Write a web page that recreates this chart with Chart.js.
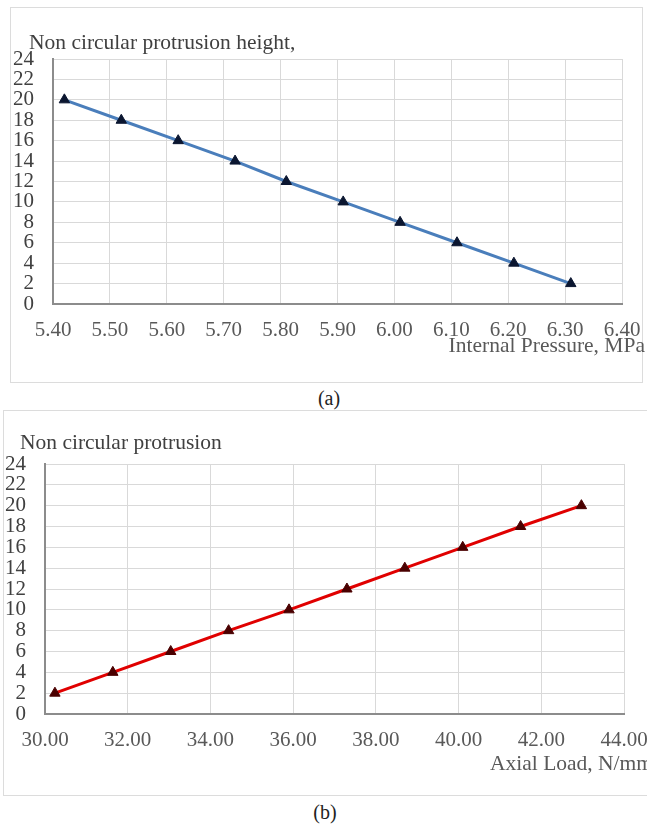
<!DOCTYPE html>
<html>
<head>
<meta charset="utf-8">
<script src="https://cdn.jsdelivr.net/npm/chart.js@4.4.0/dist/chart.umd.min.js"></script>
<style>
  html, body { margin: 0; padding: 0; background: #fff; width: 647px; height: 825px; overflow: hidden; position: relative; font-family: "Liberation Serif", serif; }
  .panel { position: absolute; border: 1px solid #dcdcdc; }
  .panel canvas { position: absolute; left: 0; top: 0; }
  .txt { position: absolute; white-space: nowrap; font-size: 21.5px; line-height: 24px; color: #404040; }
</style>
</head>
<body>
<div class="panel" style="left:10px; top:7px; width:631px; height:374px;">
  <canvas id="chartA" width="660" height="374"></canvas>
</div>
<div class="panel" style="left:3px; top:410px; width:660px; height:384px;">
  <canvas id="chartB" width="660" height="384"></canvas>
</div>

<div class="txt" style="left:29px; top:30px;">Non circular protrusion height,</div>
<div class="txt" style="right:2px; top:333px; color:#595959;">Internal Pressure, MPa</div>
<div class="txt" style="left:300px; width:58px; text-align:center; top:386px; color:#222; font-size:20px;">(a)</div>

<div class="txt" style="left:20px; top:430px;">Non circular protrusion</div>
<div class="txt" style="left:490px; top:751px; color:#595959;">Axial Load, N/mm</div>
<div class="txt" style="left:296px; width:58px; text-align:center; top:800px; color:#222; font-size:20px;">(b)</div>

<script>
// (a) height vs internal pressure
const pressure = [5.42, 5.52, 5.62, 5.72, 5.81, 5.91, 6.01, 6.11, 6.21, 6.31];
const heightA = [20, 18, 16, 14, 12, 10, 8, 6, 4, 2];
const pressureTicks = [5.40, 5.50, 5.60, 5.70, 5.80, 5.90, 6.00, 6.10, 6.20, 6.30, 6.40];

// (b) height vs axial load
const axialLoad = [30.24, 31.64, 33.04, 34.44, 35.90, 37.30, 38.70, 40.10, 41.50, 42.97];
const heightB = [2, 4, 6, 8, 10, 12, 14, 16, 18, 20];
const loadTicks = [30, 32, 34, 36, 38, 40, 42, 44];

const heightTicks = [0, 2, 4, 6, 8, 10, 12, 14, 16, 18, 20, 22, 24];

const tickFont = { family: "Liberation Serif", size: 21 };

function makeChart(id, xs, ys, xTicks, lineColor, pointColor, box) {
  const ctx = document.getElementById(id).getContext("2d");
  return new Chart(ctx, {
    type: "line",
    data: {
      datasets: [
        {
          data: xs.map((x, i) => ({ x: x, y: ys[i] })),
          borderColor: lineColor,
          borderWidth: 3,
          pointStyle: "triangle",
          pointRadius: 6,
          pointBackgroundColor: pointColor,
          pointBorderColor: pointColor,
          pointBorderWidth: 1,
          tension: 0,
        },
      ],
    },
    options: {
      responsive: false,
      animation: false,
      events: [],
      layout: { padding: box.padding },
      plugins: { legend: { display: false }, tooltip: { enabled: false } },
      scales: {
        x: {
          type: "linear",
          min: xTicks[0],
          max: xTicks[xTicks.length - 1],
          afterBuildTicks: (s) => { s.ticks = xTicks.map((v) => ({ value: v })); },
          afterFit: (s) => { s.height = box.xHeight; },
          grid: { color: "#d9d9d9", lineWidth: 1, drawTicks: false },
          border: { color: "#8c8c8c", width: 2 },
          ticks: {
            font: tickFont,
            color: "#595959",
            padding: 14,
            maxRotation: 0,
            autoSkip: false,
            callback: (v) => Number(v).toFixed(2),
          },
        },
        y: {
          min: 0,
          max: 24,
          afterBuildTicks: (s) => { s.ticks = heightTicks.map((v) => ({ value: v })); },
          afterFit: (s) => { s.width = box.yWidth; },
          grid: { color: "#d9d9d9", lineWidth: 1, drawTicks: false },
          border: { color: "#8c8c8c", width: 2 },
          ticks: { font: tickFont, color: "#404040", padding: 19, autoSkip: false },
        },
      },
    },
  });
}

makeChart("chartA", pressure, heightA, pressureTicks, "#4a7ebb", "#0b1630", {
  padding: { left: 0, right: 49, top: 51, bottom: 0 },
  yWidth: 42,
  xHeight: 78,
});

makeChart("chartB", axialLoad, heightB, loadTicks, "#e00000", "#4a0000", {
  padding: { left: 0, right: 40, top: 53, bottom: 0 },
  yWidth: 41,
  xHeight: 81,
});
</script>
</body>
</html>
